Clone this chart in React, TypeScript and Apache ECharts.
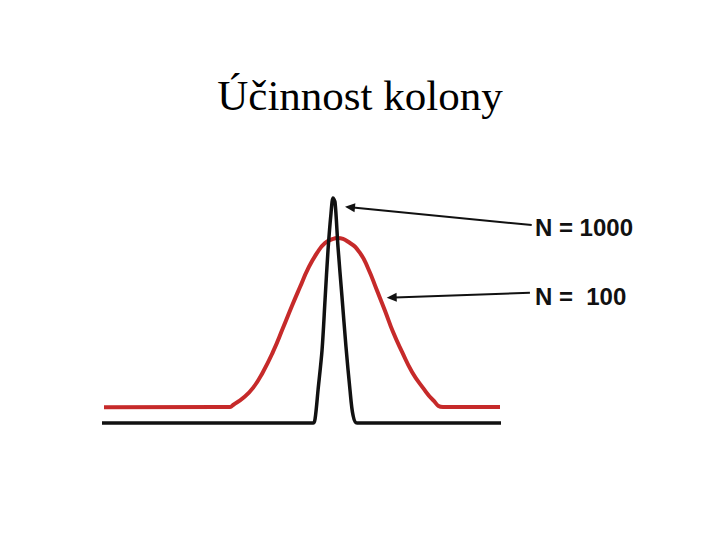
import React, { useEffect, useRef } from "react";
import * as echarts from "echarts";

// Retention time (min) and detector signal (% of N=1000 peak height)
const redTime = [0.1, 5.91, 6.42, 6.57, 7.07, 7.57, 8.07, 8.57, 9.07, 9.52, 9.92, 10.33, 10.78, 11.18, 11.58, 11.78, 12.43, 12.93, 13.33, 13.78, 14.19, 14.59, 15.04, 15.54, 16.09, 16.59, 17.09, 19.95];
const redSignal = [7, 7.1, 7.1, 8.0, 11.1, 15.6, 22.7, 31.6, 42.2, 52.0, 60.3, 68.6, 75.6, 80.0, 81.8, 82.2, 80.0, 75.6, 68.9, 59.0, 49.8, 40.4, 31.6, 22.7, 15.6, 10.2, 7.1, 7.1];

const blackTime = [0, 10.58, 10.68, 10.83, 11.03, 11.18, 11.33, 11.48, 11.58, 11.68, 11.83, 12.03, 12.23, 12.43, 12.58, 12.78, 20];
const blackSignal = [0, 0, 1.8, 14.7, 32.4, 54.7, 76.9, 93.3, 100, 98.2, 78.2, 56, 33.8, 14.7, 3.6, 0, 0];

const annotLabels = ["N = 1000", "N =  100"];
const arrowTips = [[12.18, 96.1], [14.27, 55.7]];
const arrowTails = [[21.54, 88.0], [21.45, 57.9]];
const labelAnchors = [[21.7, 87.1], [21.7, 56.4]];

const titleText = "Účinnost kolony";

export default function App() {
  const ref = useRef<HTMLDivElement>(null);
  useEffect(() => {
    if (!ref.current) return;
    const chart = echarts.init(ref.current, undefined, { renderer: "svg" });
    chart.setOption({
      animation: false,
      backgroundColor: "#ffffff",
      title: {
        text: titleText,
        left: "center",
        top: 69,
        textStyle: {
          fontFamily: "Liberation Serif",
          fontWeight: "normal",
          fontSize: 43,
          color: "#000",
        },
      },
      grid: { left: 102, right: 219, top: 198, bottom: 117 },
      xAxis: { type: "value", min: 0, max: 20, show: false },
      yAxis: { type: "value", min: 0, max: 100, show: false },
      series: [
        {
          type: "line",
          data: redTime.map((t, i) => [t, redSignal[i]]),
          showSymbol: false,
          smooth: 0.5,
          clip: false,
          lineStyle: { color: "#c62a2a", width: 4 },
        },
        {
          type: "line",
          data: blackTime.map((t, i) => [t, blackSignal[i]]),
          showSymbol: false,
          smooth: 0.3,
          clip: false,
          lineStyle: { color: "#111111", width: 3.5 },
        },
      ],
    });

    const graphics: any[] = [];
    annotLabels.forEach((label, i) => {
      const tip = chart.convertToPixel({ gridIndex: 0 }, arrowTips[i]) as number[];
      const tail = chart.convertToPixel({ gridIndex: 0 }, arrowTails[i]) as number[];
      const anchor = chart.convertToPixel({ gridIndex: 0 }, labelAnchors[i]) as number[];
      const dx = tip[0] - tail[0];
      const dy = tip[1] - tail[1];
      const len = Math.sqrt(dx * dx + dy * dy);
      const ux = dx / len;
      const uy = dy / len;
      const L = 10;
      const W = 4.5;
      const bx = tip[0] - ux * L;
      const by = tip[1] - uy * L;
      graphics.push({
        type: "line",
        shape: { x1: tail[0], y1: tail[1], x2: bx + ux * 2, y2: by + uy * 2 },
        style: { stroke: "#111", lineWidth: 2 },
        z: 10,
      });
      graphics.push({
        type: "polygon",
        shape: {
          points: [
            [tip[0], tip[1]],
            [bx - uy * W, by + ux * W],
            [bx + uy * W, by - ux * W],
          ],
        },
        style: { fill: "#111" },
        z: 10,
      });
      graphics.push({
        type: "text",
        x: anchor[0],
        y: anchor[1],
        style: {
          text: label,
          fontFamily: "Liberation Sans",
          fontWeight: "bold",
          fontSize: 24,
          fill: "#111",
          align: "left",
          verticalAlign: "middle",
        },
        z: 10,
      });
    });
    chart.setOption({ graphic: graphics });

    return () => chart.dispose();
  }, []);
  return (
    <div
      ref={ref}
      style={{ position: "absolute", left: 0, top: 0, width: 720, height: 540 }}
    />
  );
}
